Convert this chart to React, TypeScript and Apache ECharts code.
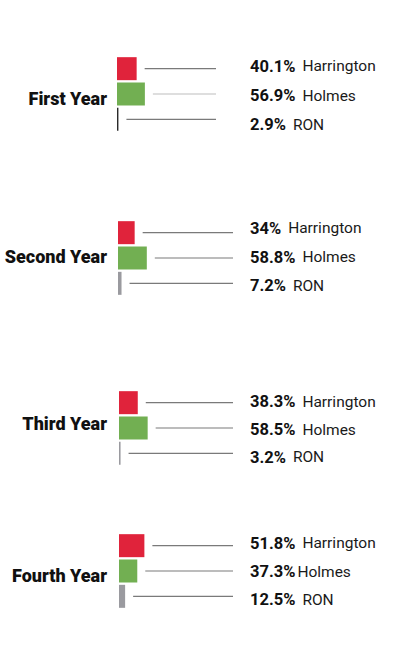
import React, { useEffect, useRef } from "react";
import * as echarts from "echarts";

// ---- data ----
const years = ["First Year", "Second Year", "Third Year", "Fourth Year"];
const candidates = ["Harrington", "Holmes", "RON"];
const harrington = [40.1, 34, 38.3, 51.8];
const holmes = [56.9, 58.8, 58.5, 37.3];
const ron = [2.9, 7.2, 3.2, 12.5];

// ---- layout / style ----
const gridTops = [56, 220, 390, 533];
const gridLefts = [117, 118, 119, 119];
const gridWidth = 49;
const gridHeight = 76;
const labelX = 250;
const labelSpread = [4, 3.4, 2.2, 3];
const labelShift = [1.5, -1, 1.5, 0.5];
const lineEnds = [216, 233, 233, 233];
const yearLabelY = [98, 256, 423, 575];
const barColors = ["#E0233B", "#72AF52", "#9A9A9F"];
const FONT = "Roboto, 'Noto Sans', sans-serif";

export default function App() {
  const ref = useRef<HTMLDivElement>(null);
  useEffect(() => {
    if (!ref.current) return;
    const chart = echarts.init(ref.current, null, { renderer: "svg" });
    const groups = years.map((_, i) => [harrington[i], holmes[i], ron[i]]);

    const grid: any[] = [];
    const xAxis: any[] = [];
    const yAxis: any[] = [];
    const series: any[] = [];

    groups.forEach((vals, i) => {
      grid.push({ left: gridLefts[i], top: gridTops[i], width: gridWidth, height: gridHeight });
      xAxis.push({ type: "value", gridIndex: i, min: 0, max: 100, show: false });
      yAxis.push({
        type: "category", gridIndex: i, inverse: true, data: candidates,
        axisLine: { show: false }, axisTick: { show: false }, splitLine: { show: false },
        axisLabel: { show: false },
      });
      series.push({
        type: "bar", xAxisIndex: i, yAxisIndex: i, barWidth: 23,
        data: vals.map((v, k) => ({
          value: v,
          itemStyle: { color: i === 0 && k === 2 ? "#2b2b2b" : barColors[k] },
        })),
      });
      series.push({
        type: "custom", xAxisIndex: i, yAxisIndex: i,
        encode: { x: 0, y: 1 },
        data: vals.map((v, k) => [v, k]),
        renderItem: (params: any, api: any) => {
          const v = api.value(0);
          const k = api.value(1);
          const p = api.coord([v, k]);
          const light = i === 0 && k === 1;
          const tight = i === 3 && k === 1;
          return {
            type: "group",
            children: [
              {
                type: "line",
                shape: { x1: p[0] + 8, y1: p[1], x2: lineEnds[i], y2: p[1] },
                style: { stroke: light ? "#bdbdbd" : "#7a7a7a", lineWidth: 1.2 },
              },
              {
                type: "text",
                x: labelX,
                y: p[1] + (k - 1) * labelSpread[i] + labelShift[i],
                style: {
                  text: `{v|${v}%}{${tight ? "m" : "n"}|${candidates[k]}}`,
                  align: "left",
                  verticalAlign: "middle",
                  rich: {
                    v: { fontFamily: FONT, fontWeight: "bold", fontSize: 16.5, fill: "#111" },
                    n: { fontFamily: FONT, fontSize: 15.5, fill: "#1a1a1a", padding: [0, 0, 0, 7] },
                    m: { fontFamily: FONT, fontSize: 15.5, fill: "#1a1a1a", padding: [0, 0, 0, 2] },
                  },
                },
              },
            ],
          };
        },
      });
    });

    const graphic = years.map((y, i) => ({
      type: "text",
      x: 107,
      y: yearLabelY[i],
      style: {
        text: y,
        align: "right",
        verticalAlign: "middle",
        fontFamily: FONT,
        fontWeight: 900,
        fontSize: 18,
        fill: "#111",
      },
    }));

    chart.setOption({
      animation: false,
      backgroundColor: "#fff",
      grid, xAxis, yAxis, series, graphic,
    });
    return () => chart.dispose();
  }, []);
  return (
    <div
      ref={ref}
      style={{ position: "fixed", left: 0, top: 0, width: 394, height: 668 }}
    />
  );
}
